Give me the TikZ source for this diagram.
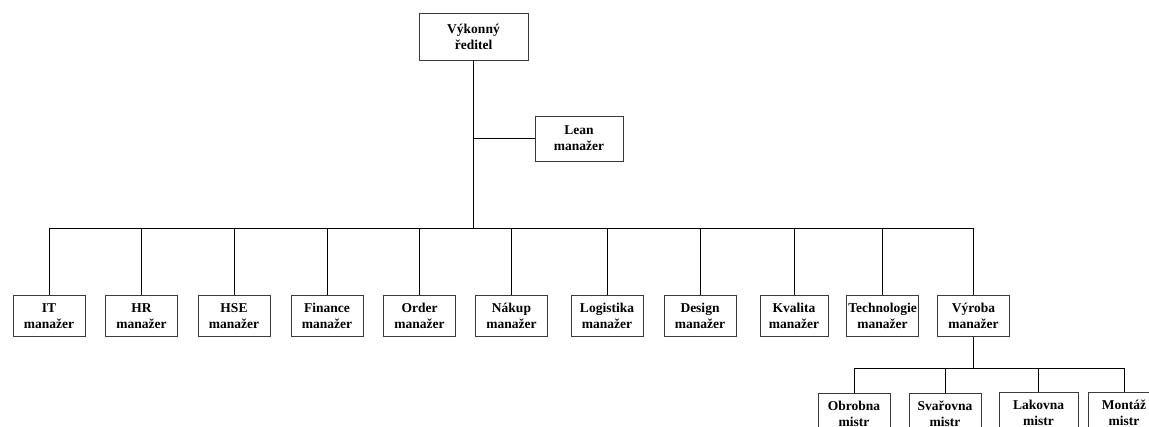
\documentclass[tikz,border=0pt]{standalone}
\usepackage{fontspec}
\setmainfont{Liberation Serif}
\usepackage{tikz}
\definecolor{ramec}{HTML}{3A3A3A}
\tikzstyle{funkce}=[rectangle, draw=ramec, fill=white, align=center, font=\bfseries\fontsize{13.5}{16}\selectfont, minimum width=72pt, minimum height=41pt, inner sep=1pt, line width=0.9pt]
\tikzstyle{vazba}=[draw=black, line width=0.9pt]

\begin{document}
\begin{tikzpicture}[x=1pt, y=-1pt]
				\path[use as bounding box, clip] (0,0) rectangle (1149,427);
				\node[funkce, minimum width=109pt, minimum height=47pt] (reditel) at (473.5,36.5) {Výkonný\\ředitel};
				\node[funkce, minimum width=88pt, minimum height=45pt] (lean) at (579,138.5) {Lean\\manažer};
				\coordinate (sbernice) at (0,228);
				\node[funkce] (it) at (49,316) {IT\\manažer};
				\node[funkce] (hr) at (141.5,316) {HR\\manažer};
				\node[funkce] (hse) at (234,316) {HSE\\manažer};
				\node[funkce] (finance) at (327,316) {Finance\\manažer};
				\node[funkce] (order) at (419.5,316) {Order\\manažer};
				\node[funkce] (nakup) at (511.5,316) {Nákup\\manažer};
				\node[funkce] (logistika) at (607,316) {Logistika\\manažer};
				\node[funkce] (design) at (700,316) {Design\\manažer};
				\node[funkce, minimum width=68pt] (kvalita) at (794,316) {Kvalita\\manažer};
				\node[funkce] (technologie) at (882.5,316) {Technologie\\manažer};
				\node[funkce] (vyroba) at (973.5,316) {Výroba\\manažer};
				\coordinate (sbernice2) at (0,368);
				\node[funkce] (obrobna) at (854,413.5) {Obrobna\\mistr};
				\node[funkce] (svarovna) at (945,413.5) {Svařovna\\mistr};
				\node[funkce, minimum width=79pt] (lakovna) at (1038.5,412.5) {Lakovna\\mistr};
				\node[funkce] (montaz) at (1124,412.5) {Montáž\\mistr};
				% propojeni
				\path[vazba] (reditel) -- (reditel |- sbernice);
				\path[vazba] (reditel |- lean) -- (lean);
				\path[vazba] (it |- sbernice) -- (vyroba |- sbernice);
				\path[vazba] (it) -- (it |- sbernice);
				\path[vazba] (hr) -- (hr |- sbernice);
				\path[vazba] (hse) -- (hse |- sbernice);
				\path[vazba] (finance) -- (finance |- sbernice);
				\path[vazba] (order) -- (order |- sbernice);
				\path[vazba] (nakup) -- (nakup |- sbernice);
				\path[vazba] (logistika) -- (logistika |- sbernice);
				\path[vazba] (design) -- (design |- sbernice);
				\path[vazba] (kvalita) -- (kvalita |- sbernice);
				\path[vazba] (technologie) -- (technologie |- sbernice);
				\path[vazba] (vyroba) -- (vyroba |- sbernice);
				\path[vazba] (vyroba) -- (vyroba |- sbernice2);
				\path[vazba] (obrobna |- sbernice2) -- (montaz |- sbernice2);
				\path[vazba] (obrobna) -- (obrobna |- sbernice2);
				\path[vazba] (svarovna) -- (svarovna |- sbernice2);
				\path[vazba] (lakovna) -- (lakovna |- sbernice2);
				\path[vazba] (montaz) -- (montaz |- sbernice2);
			\end{tikzpicture}
\end{document}
